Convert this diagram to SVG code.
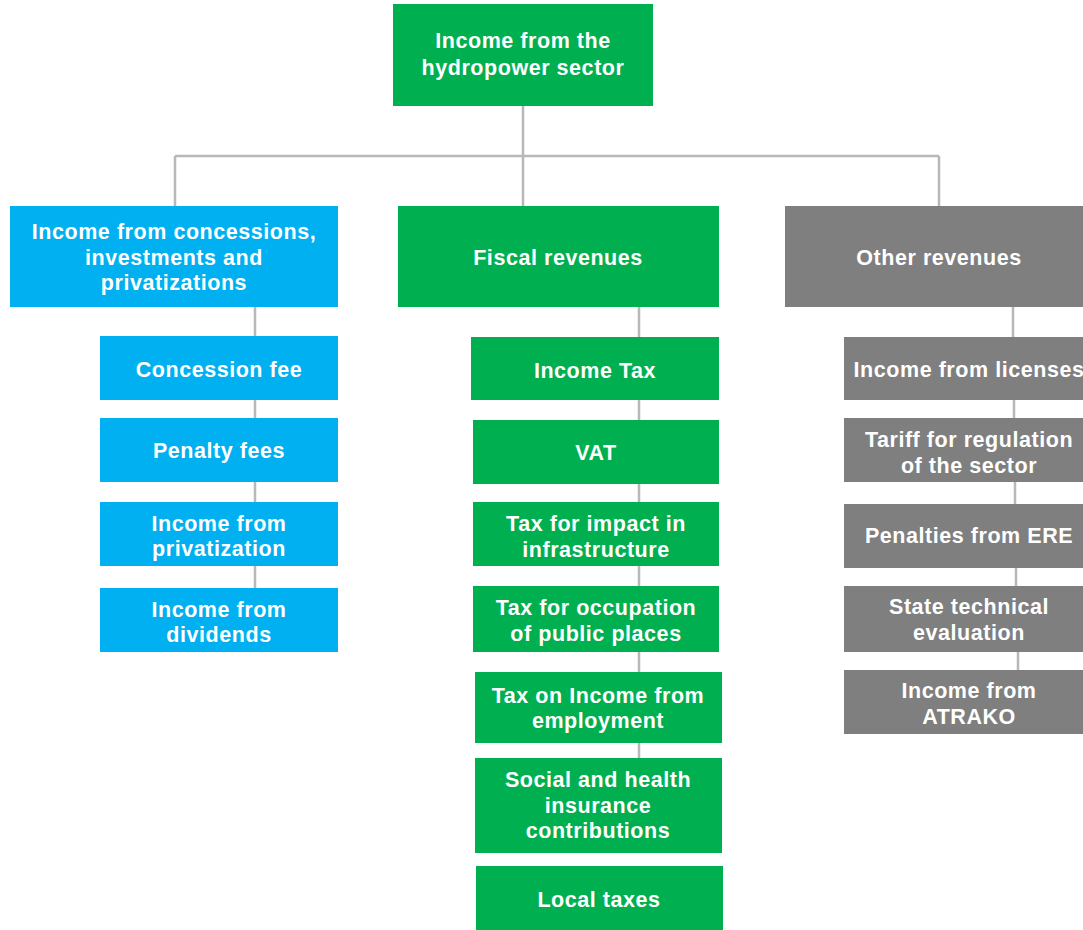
<svg xmlns="http://www.w3.org/2000/svg" width="1083" height="930" viewBox="0 0 1083 930">
<style>
.g{fill:#00B050}.b{fill:#00B0F0}.k{fill:#7F7F7F}
text{font-family:"Liberation Sans",Arial,sans-serif;font-weight:bold;font-size:21.5px;letter-spacing:0.55px;fill:#fff;text-anchor:middle}
.c{stroke:#B8B8B8;stroke-width:2.5;fill:none}
</style>
<rect width="1083" height="930" fill="#fff"/>
<g id="connectors">
<path class="c" d="M523 106V156M175 156H939M175 156V206M523 156V206M939 156V206"/>
<path class="c" d="M255 307V588"/>
<path class="c" d="M639 307V758"/>
<path class="c" d="M1013 307V337M1014 400V418M1015 482V504M1016 568V586M1018 652V670"/>
</g>
<g id="top"><rect class="g" x="393" y="4" width="260" height="102"/><text x="523" y="48">Income from the</text><text x="523" y="75">hydropower sector</text></g>
<g id="concessions"><rect class="b" x="10" y="206" width="328" height="101"/><text x="174" y="239">Income from concessions,</text><text x="174" y="265">investments and</text><text x="174" y="290">privatizations</text></g>
<g id="fiscal"><rect class="g" x="398" y="206" width="321" height="101"/><text x="558" y="265">Fiscal revenues</text></g>
<g id="other"><rect class="k" x="785" y="206" width="310" height="101"/><text x="939" y="265">Other revenues</text></g>
<g id="concession-fee"><rect class="b" x="100" y="336" width="238" height="64"/><text x="219" y="377">Concession fee</text></g>
<g id="penalty-fees"><rect class="b" x="100" y="418" width="238" height="64"/><text x="219" y="458">Penalty fees</text></g>
<g id="privatization"><rect class="b" x="100" y="502" width="238" height="64"/><text x="219" y="531">Income from</text><text x="219" y="556">privatization</text></g>
<g id="dividends"><rect class="b" x="100" y="588" width="238" height="64"/><text x="219" y="617">Income from</text><text x="219" y="642">dividends</text></g>
<g id="income-tax"><rect class="g" x="471" y="337" width="248" height="63"/><text x="595" y="378">Income Tax</text></g>
<g id="vat"><rect class="g" x="473" y="420" width="246" height="64"/><text x="596" y="460">VAT</text></g>
<g id="impact"><rect class="g" x="473" y="502" width="246" height="64"/><text x="596" y="531">Tax for impact in</text><text x="596" y="557">infrastructure</text></g>
<g id="occupation"><rect class="g" x="473" y="586" width="246" height="66"/><text x="596" y="615">Tax for occupation</text><text x="596" y="641">of public places</text></g>
<g id="employment"><rect class="g" x="475" y="672" width="247" height="71"/><text x="598" y="703">Tax on Income from</text><text x="598" y="728">employment</text></g>
<g id="social"><rect class="g" x="475" y="758" width="247" height="95"/><text x="598" y="787">Social and health</text><text x="598" y="813">insurance</text><text x="598" y="838">contributions</text></g>
<g id="local"><rect class="g" x="476" y="866" width="247" height="64"/><text x="599" y="907">Local taxes</text></g>
<g id="licenses"><rect class="k" x="844" y="337" width="250" height="63"/><text x="969" y="377">Income from licenses</text></g>
<g id="tariff"><rect class="k" x="844" y="418" width="250" height="64"/><text x="969" y="447">Tariff for regulation</text><text x="969" y="473">of the sector</text></g>
<g id="ere"><rect class="k" x="844" y="504" width="250" height="64"/><text x="969" y="543">Penalties from ERE</text></g>
<g id="evaluation"><rect class="k" x="844" y="586" width="250" height="66"/><text x="969" y="614">State technical</text><text x="969" y="640">evaluation</text></g>
<g id="atrako"><rect class="k" x="844" y="670" width="250" height="64"/><text x="969" y="698">Income from</text><text x="969" y="724">ATRAKO</text></g>
</svg>
